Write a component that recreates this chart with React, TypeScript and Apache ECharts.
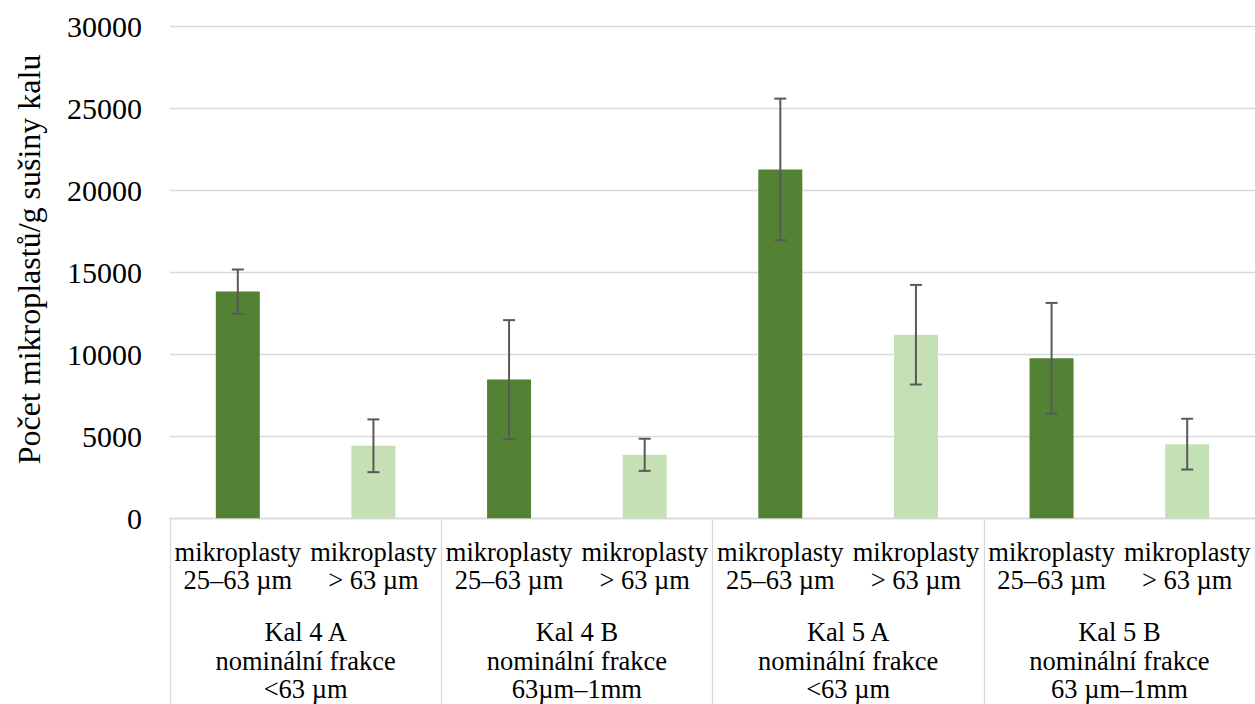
import React, { useEffect, useRef } from "react";
import * as echarts from "echarts";

// Sub-category (size fraction) labels, one per bar
const fractionLabels = [
  "mikroplasty\n25–63 µm",
  "mikroplasty\n> 63 µm",
  "mikroplasty\n25–63 µm",
  "mikroplasty\n> 63 µm",
  "mikroplasty\n25–63 µm",
  "mikroplasty\n> 63 µm",
  "mikroplasty\n25–63 µm",
  "mikroplasty\n> 63 µm",
];

// Sample groups (two bars each)
const sampleLabels = [
  "Kal 4 A\nnominální frakce\n<63 µm",
  "Kal 4 B\nnominální frakce\n63µm–1mm",
  "Kal 5 A\nnominální frakce\n<63 µm",
  "Kal 5 B\nnominální frakce\n63 µm–1mm",
];

// Mean counts per gram of dry sludge
const meanValues = [13830, 4420, 8460, 3870, 21290, 11200, 9760, 4520];
// Symmetric error (±)
const errorValues = [1350, 1610, 3630, 980, 4320, 3040, 3380, 1550];

const yTicks = { min: 0, max: 30000, interval: 5000 };

const DARK = "#548235";
const LIGHT = "#C5E0B4";
const FONT = "Liberation Serif, Times New Roman, serif";

export default function App() {
  const ref = useRef<HTMLDivElement>(null);

  useEffect(() => {
    if (!ref.current) return;
    const chart = echarts.init(ref.current, undefined, { renderer: "svg" });

    const errData = meanValues.map((v, i) => [i, v - errorValues[i], v + errorValues[i]]);

    chart.setOption({
      animation: false,
      backgroundColor: "#ffffff",
      textStyle: { fontFamily: FONT },
      grid: { left: 170, right: 0, top: 26.7, bottom: 185.8, containLabel: false },
      xAxis: [
        {
          type: "category",
          data: fractionLabels,
          position: "bottom",
          axisLine: { show: true, lineStyle: { color: "#d9d9d9", width: 1.3 } },
          axisTick: { show: false },
          axisLabel: {
            interval: 0,
            margin: 19.5,
            color: "#000",
            fontFamily: FONT,
            fontSize: 26.5,
            lineHeight: 28.4,
          },
        },
        {
          type: "category",
          data: sampleLabels,
          position: "bottom",
          offset: 0,
          axisLine: { show: false },
          axisTick: {
            show: true,
            length: 200,
            lineStyle: { color: "#d9d9d9", width: 1.3 },
          },
          axisLabel: {
            interval: 0,
            margin: 100,
            color: "#000",
            fontFamily: FONT,
            fontSize: 26.5,
            lineHeight: 28.4,
          },
        },
      ],
      yAxis: {
        type: "value",
        min: yTicks.min,
        max: yTicks.max,
        interval: yTicks.interval,
        name: "Počet mikroplastů/g sušiny kalu",
        nameLocation: "middle",
        nameGap: 125,
        nameTextStyle: {
          color: "#000",
          fontFamily: FONT,
          fontSize: 32,
          padding: [0, 0, 0, 26],
        },
        axisLine: { show: false },
        axisTick: { show: false },
        axisLabel: {
          margin: 28,
          color: "#000",
          fontFamily: FONT,
          fontSize: 30,
          formatter: (v: number) => String(v),
        },
        splitLine: { lineStyle: { color: "#d9d9d9", width: 1.3 } },
      },
      series: [
        {
          type: "bar",
          xAxisIndex: 0,
          barWidth: 44,
          data: meanValues.map((v, i) => ({
            value: v,
            itemStyle: { color: i % 2 === 0 ? DARK : LIGHT },
          })),
        },
        {
          type: "custom",
          xAxisIndex: 0,
          data: errData,
          z: 10,
          renderItem: (params: any, api: any) => {
            const x = api.value(0);
            const lo = api.coord([x, api.value(1)]);
            const hi = api.coord([x, api.value(2)]);
            const half = 6;
            const style = { stroke: "#595959", lineWidth: 2 };
            return {
              type: "group",
              children: [
                { type: "line", shape: { x1: hi[0], y1: hi[1], x2: lo[0], y2: lo[1] }, style },
                { type: "line", shape: { x1: hi[0] - half, y1: hi[1], x2: hi[0] + half, y2: hi[1] }, style },
                { type: "line", shape: { x1: lo[0] - half, y1: lo[1], x2: lo[0] + half, y2: lo[1] }, style },
              ],
            };
          },
        },
      ],
    });

    return () => chart.dispose();
  }, []);

  return (
    <div
      ref={ref}
      style={{ position: "absolute", left: 0, top: 0, width: 1255, height: 704 }}
    />
  );
}
